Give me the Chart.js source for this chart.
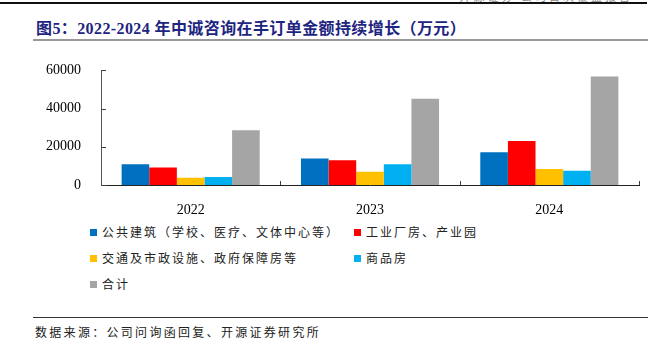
<!DOCTYPE html>
<html>
<head>
<meta charset="utf-8">
<script src="https://cdn.jsdelivr.net/npm/chart.js@4/dist/chart.umd.min.js"></script>
<style>
  html, body { margin: 0; padding: 0; background: #fff; }
  body { width: 669px; height: 354px; position: relative; overflow: hidden; }
  .abs { position: absolute; }
  #topline { left: 0; top: 2px; width: 647px; height: 2px; background: #111; }
  #header { right: 36px; top: -12px; font: 11px "Noto Sans CJK SC"; color: #888; letter-spacing: 3px; }
  #title { left: 36px; top: 15px; font: bold 16px "Liberation Serif", "Noto Sans CJK SC"; color: #1e2580; letter-spacing: 0.4px; white-space: nowrap; }
  #titleline { left: 33px; top: 39px; width: 615px; height: 2px; background: #999; }
  #wrap { left: 0; top: 50px; width: 669px; height: 165px; }
  .leg { position: absolute; font: 12px "Noto Sans CJK SC"; color: #222; letter-spacing: 2px; white-space: nowrap; line-height: 14px; }
  .leg i { position: absolute; left: -12px; top: 4px; width: 7px; height: 7px; }
  #srcline { left: 33px; top: 317px; width: 615px; height: 1px; background: #333; }
  #source { left: 35px; top: 323px; font: 12px "Noto Sans CJK SC"; color: #222; letter-spacing: 2.3px; white-space: nowrap; }
</style>
</head>
<body>
<div id="topline" class="abs"></div>
<div id="header" class="abs">开源证券 公司首次覆盖报告</div>
<div id="title" class="abs">图5：2022-2024 年中诚咨询在手订单金额持续增长（万元）</div>
<div id="titleline" class="abs"></div>
<div id="wrap" class="abs"><canvas id="myChart" width="669" height="165"></canvas></div>
<div id="legend"></div>
<div id="srcline" class="abs"></div>
<div id="source" class="abs">数据来源：公司问询函回复、开源证券研究所</div>
<script>
// 数据（万元）
const years = ['2022', '2023', '2024'];
const seriesNames = ['公共建筑（学校、医疗、文体中心等）', '工业厂房、产业园', '交通及市政设施、政府保障房等', '商品房', '合计'];
const seriesColors = ['#0070C0', '#FF0000', '#FFC000', '#00B0F0', '#A5A5A5'];
const publicBuildings = [10800, 13900, 17100];
const industrialParks = [9200, 12900, 23000];
const municipal = [3800, 6900, 8400];
const housing = [4200, 10800, 7500];
const total = [28600, 45100, 56800];
const yTicks = [0, 20000, 40000, 60000];

const seriesValues = [publicBuildings, industrialParks, municipal, housing, total];

// 图例位置（与原图对齐）
const legendPos = [[102, 225], [366, 225], [102, 251], [366, 251], [102, 277]];
const legendBox = document.getElementById('legend');
seriesNames.forEach((name, i) => {
  const d = document.createElement('div');
  d.className = 'leg';
  d.style.left = legendPos[i][0] + 'px';
  d.style.top = legendPos[i][1] + 'px';
  d.innerHTML = '<i style="background:' + seriesColors[i] + '"></i>' + name;
  legendBox.appendChild(d);
});

// 坐标轴内侧刻度线
const innerTicks = {
  id: 'innerTicks',
  afterDraw(chart) {
    const ctx = chart.ctx;
    const xs = chart.scales.x, ys = chart.scales.y;
    const area = chart.chartArea;
    ctx.save();
    ctx.strokeStyle = '#404040';
    ctx.lineWidth = 1;
    ctx.beginPath();
    yTicks.forEach(v => {
      const y = Math.round(ys.getPixelForValue(v)) + 0.5;
      ctx.moveTo(area.left, y);
      ctx.lineTo(area.left + 5, y);
    });
    const step = (area.right - area.left) / years.length;
    for (let i = 1; i <= years.length; i++) {
      const x = Math.round(area.left + i * step) + 0.5;
      ctx.moveTo(x, area.bottom);
      ctx.lineTo(x, area.bottom - 4);
    }
    ctx.stroke();
    ctx.restore();
  }
};

const ctx = document.getElementById('myChart').getContext('2d');
new Chart(ctx, {
  type: 'bar',
  data: {
    labels: years,
    datasets: seriesNames.map((name, i) => ({
      label: name,
      data: seriesValues[i],
      backgroundColor: seriesColors[i],
      borderWidth: 0
    }))
  },
  options: {
    responsive: false,
    animation: false,
    devicePixelRatio: 1,
    categoryPercentage: 0.77,
    barPercentage: 1.0,
    layout: { padding: { left: 0, right: 30, top: 20, bottom: 0 } },
    plugins: { legend: { display: false }, tooltip: { enabled: false } },
    scales: {
      x: {
        offset: true,
        grid: { display: false },
        border: { display: true, color: '#222', width: 1 },
        ticks: { color: '#000', padding: 9, font: { family: 'Liberation Serif', size: 14 } },
        afterFit(scale) { scale.height = 30; }
      },
      y: {
        min: 0,
        max: 60000,
        afterBuildTicks(scale) { scale.ticks = yTicks.map(v => ({ value: v })); },
        grid: { display: false },
        border: { display: true, color: '#555', width: 1 },
        ticks: {
          color: '#000',
          padding: 12,
          font: { family: 'Liberation Serif', size: 14 },
          callback: v => String(v)
        },
        afterFit(scale) { scale.width = 101; }
      }
    }
  },
  plugins: [innerTicks]
});
</script>
</body>
</html>
